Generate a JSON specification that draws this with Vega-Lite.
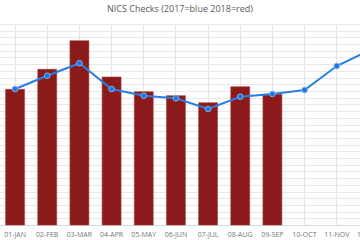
{
  "$schema": "https://vega.github.io/schema/vega-lite/v6.json",
  "autosize": {"type": "none"},
  "padding": {"top": 24, "bottom": 15, "left": 0, "right": 0},
  "width": 360,
  "height": 201,
  "background": "white",
  "config": {
    "view": {"stroke": null},
    "font": "Open Sans"
  },
  "title": {
    "text": "NICS Checks (2017=blue 2018=red)",
    "fontSize": 9,
    "fontWeight": "normal",
    "color": "#595959",
    "anchor": "middle",
    "offset": 10
  },
  "data": {
    "values": [
      {"month": "01-JAN", "y2017": 2030, "y2018": 2025},
      {"month": "02-FEB", "y2017": 2228, "y2018": 2324},
      {"month": "03-MAR", "y2017": 2415, "y2018": 2751},
      {"month": "04-APR", "y2017": 2030, "y2018": 2209},
      {"month": "05-MAY", "y2017": 1930, "y2018": 1990},
      {"month": "06-JUN", "y2017": 1891, "y2018": 1930},
      {"month": "07-JUL", "y2017": 1731, "y2018": 1825},
      {"month": "08-AUG", "y2017": 1915, "y2018": 2064},
      {"month": "09-SEP", "y2017": 1955, "y2018": 1951},
      {"month": "10-OCT", "y2017": 2015, "y2018": null},
      {"month": "11-NOV", "y2017": 2373, "y2018": null},
      {"month": "12-DEC", "y2017": 2604, "y2018": null}
    ]
  },
  "encoding": {
    "x": {
      "field": "month",
      "type": "ordinal",
      "sort": null,
      "scale": {"range": [-1, 385], "paddingInner": 0.41, "paddingOuter": 0.205},
      "axis": {
        "title": null,
        "labelAngle": 0,
        "labelFontSize": 7,
        "labelColor": "#767676",
        "labelPadding": 5,
        "ticks": false,
        "domain": true,
        "domainColor": "#d9d9d9",
        "grid": true,
        "gridColor": "#e4e4e4",
        "bandPosition": 0.5,
        "labelOverlap": false,
        "labelBound": false
      }
    }
  },
  "layer": [
    {
      "transform": [{"filter": "datum.y2018 != null"}],
      "mark": {"type": "bar", "color": "#8b1b1b", "stroke": "#a84040", "strokeWidth": 0.6},
      "encoding": {
        "y": {
          "field": "y2018",
          "type": "quantitative",
          "scale": {"domain": [0, 3000], "nice": false},
          "axis": {
            "title": null,
            "labels": false,
            "ticks": false,
            "domain": false,
            "grid": true,
            "gridColor": "#e8e8e8",
            "tickCount": 30
          }
        }
      }
    },
    {
      "mark": {
        "type": "line",
        "color": "#2a7de1",
        "strokeWidth": 2,
        "point": {"filled": true, "size": 32, "color": "#1f74e0", "stroke": "#7fb2f0", "strokeWidth": 1}
      },
      "encoding": {
        "y": {"field": "y2017", "type": "quantitative"}
      }
    }
  ]
}
